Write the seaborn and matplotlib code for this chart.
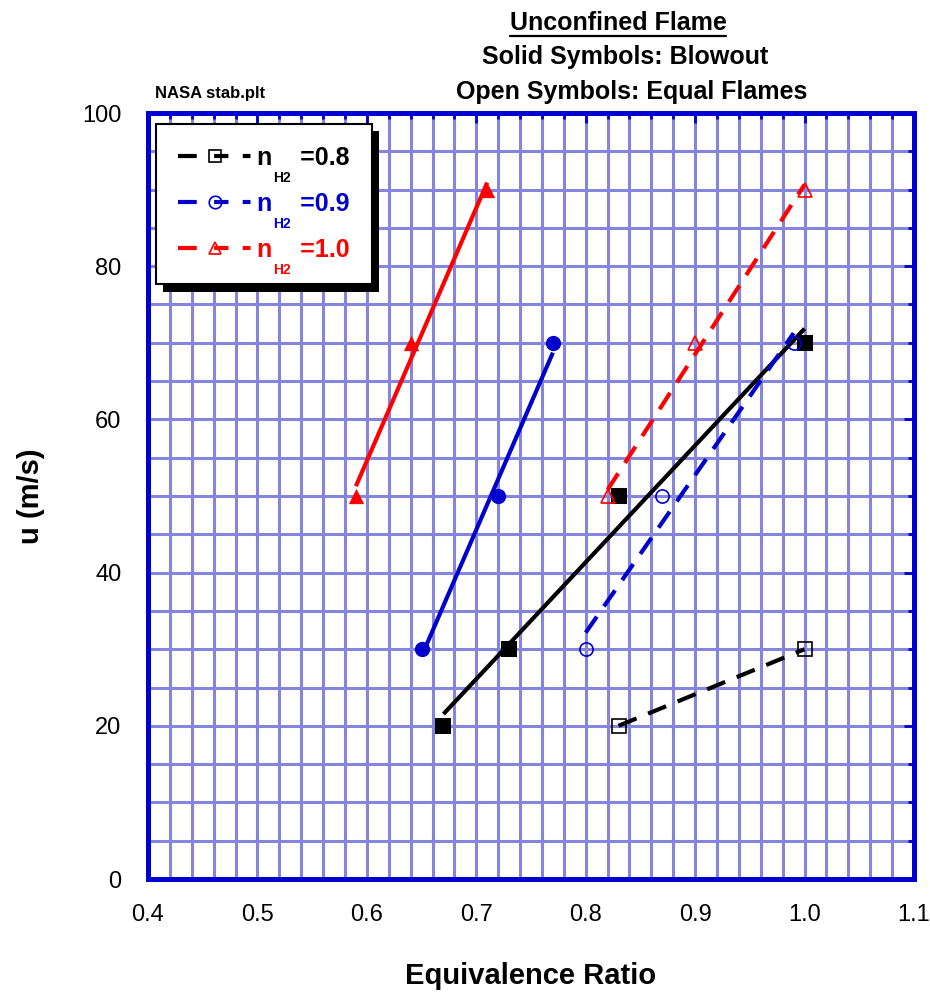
import numpy as np
import pandas as pd
import matplotlib
matplotlib.use("Agg")
import matplotlib.pyplot as plt
import seaborn as sns
from matplotlib.ticker import MultipleLocator, FormatStrFormatter
from matplotlib.lines import Line2D
from matplotlib.patches import Rectangle

# ---- data (equivalence ratio, velocity u in m/s) ----
blow_08_x = [0.67, 0.73, 0.83, 1.00]
blow_08_y = [20, 30, 50, 70]
blow_09_x = [0.65, 0.72, 0.77]
blow_09_y = [30, 50, 70]
blow_10_x = [0.59, 0.64, 0.71]
blow_10_y = [50, 70, 90]
eq_08_x = [0.83, 1.00]
eq_08_y = [20, 30]
eq_09_x = [0.80, 0.87, 0.99]
eq_09_y = [30, 50, 70]
eq_10_x = [0.82, 0.90, 1.00]
eq_10_y = [50, 70, 90]
series_values = ["0.8", "0.9", "1.0"]
x_ticks = [0.4, 0.5, 0.6, 0.7, 0.8, 0.9, 1.0, 1.1]
y_ticks = [0, 20, 40, 60, 80, 100]

colors = ["black", "#0000cc", "#ff0000"]
markers = ["s", "o", "^"]
blow = [(blow_08_x, blow_08_y), (blow_09_x, blow_09_y), (blow_10_x, blow_10_y)]
equal = [(eq_08_x, eq_08_y), (eq_09_x, eq_09_y), (eq_10_x, eq_10_y)]

sns.set_style("white")
plt.rcParams["font.family"] = ["Liberation Sans", "DejaVu Sans"]
plt.rcParams["lines.scale_dashes"] = False
for k in ["text.color", "axes.labelcolor", "xtick.labelcolor", "ytick.labelcolor"]:
    plt.rcParams[k] = "black"

W, H = 930, 996
fig = plt.figure(figsize=(W / 100, H / 100), dpi=100)
ax = fig.add_axes([148 / W, (H - 879) / H, 766 / W, 766 / H])

spine_c = "#0000d0"
grid_c = "#8585de"

for (bx, by), (ex, ey), c, m in zip(blow, equal, colors, markers):
    dfb = pd.DataFrame({"phi": bx, "u": by})
    dfe = pd.DataFrame({"phi": ex, "u": ey})
    sns.regplot(data=dfb, x="phi", y="u", ax=ax, scatter=False, ci=None,
                color=c, truncate=True,
                line_kws=dict(lw=3, zorder=3, solid_capstyle="butt"))
    sns.regplot(data=dfe, x="phi", y="u", ax=ax, scatter=False, ci=None,
                color=c, truncate=True,
                line_kws=dict(lw=3, zorder=3, ls=(0, (14, 9)),
                              dash_capstyle="butt"))
    ms = 11.5 if m == "s" else 11
    sns.scatterplot(data=dfb, x="phi", y="u", ax=ax, marker=m, s=ms ** 2,
                    color=c, edgecolor=c, linewidth=0, zorder=4, legend=False)
    ax.plot(ex, ey, ls="none", marker=m, ms=9.5, mfc="none", mec=c,
            mew=1.2, zorder=4)

ax.set_xlim(0.4, 1.1)
ax.set_ylim(0, 100)
ax.set_xticks(x_ticks)
ax.set_yticks(y_ticks)
ax.xaxis.set_major_formatter(FormatStrFormatter("%.1f"))
ax.yaxis.set_major_formatter(FormatStrFormatter("%d"))
ax.xaxis.set_minor_locator(MultipleLocator(0.02))
ax.yaxis.set_minor_locator(MultipleLocator(5))
ax.set_axisbelow(True)
ax.grid(which="both", color=grid_c, lw=2.2)

for sp in ax.spines.values():
    sp.set_color(spine_c)
    sp.set_linewidth(3.6)
    sp.set_visible(True)

ax.tick_params(which="both", direction="in", top=True, right=True,
               color=spine_c, width=2)
ax.tick_params(which="major", length=7)
ax.tick_params(which="minor", length=4.5)
ax.tick_params(axis="x", which="major", pad=18, labelsize=17)
ax.tick_params(axis="y", which="major", pad=19, labelsize=17)

ax.set_xlabel("Equivalence Ratio", fontsize=21, fontweight="bold", labelpad=26)
ax.set_ylabel("u (m/s)", fontsize=21, fontweight="bold", labelpad=27)

# legend
handles = [Line2D([], [], color=c, lw=3,
                  ls=(0, (13.5, 12.5, 10.3, 10.3, 5.6, 200)),
                  dash_capstyle="butt",
                  marker=m, mfc="none", mec=c, ms=9, mew=1.2)
           for c, m in zip(colors, markers)]
labels = ["n    =" + v for v in series_values]
leg = ax.legend(handles, labels, loc="upper left",
                bbox_to_anchor=(8 / 766, (879 - 124) / 766),
                borderaxespad=0, prop={"weight": "bold", "size": 18},
                labelcolor="linecolor", handlelength=2.9,
                handletextpad=0.25, frameon=True,
                fancybox=False, framealpha=1, edgecolor="black",
                borderpad=0.89, labelspacing=0.88)
leg.get_frame().set_linewidth(1.5)
leg.set_zorder(10)

# titles
fig.text(618 / W, 1 - 23 / H, "Unconfined Flame", ha="center", va="center",
         fontsize=18, fontweight="bold")
fig.text(625 / W, 1 - 57 / H, "Solid Symbols: Blowout", ha="center",
         va="center", fontsize=18, fontweight="bold")
fig.text(632 / W, 1 - 92 / H, "Open Symbols: Equal Flames", ha="center",
         va="center", fontsize=18, fontweight="bold")
fig.text(155 / W, 1 - 93 / H, "NASA stab.plt", ha="left", va="center",
         fontsize=12, fontweight="bold")

fig.canvas.draw()
r = fig.canvas.get_renderer()
# legend shadow
bb = leg.get_frame().get_window_extent(r)
inv = ax.transAxes.inverted()
(x0, y0), (x1, y1) = inv.transform([[bb.x0 + 7, bb.y0 - 7], [bb.x1 + 7, bb.y1 - 7]])
ax.add_patch(Rectangle((x0, y0), x1 - x0, y1 - y0, transform=ax.transAxes,
                       facecolor="black", edgecolor="none", zorder=9,
                       clip_on=False))
# subscripts "H2" under the n of each legend label
probe = fig.text(0, 0, "n", fontsize=18, fontweight="bold")
nw = probe.get_window_extent(r).width
probe.remove()
for t, c in zip(leg.get_texts(), colors):
    tb = t.get_window_extent(r)
    fig.text((tb.x0 + nw + 1) / W, (tb.y0 - 1) / H, "H2", ha="left", va="top",
             fontsize=10, fontweight="bold", color=c, zorder=11)
# underline of first title line
tb = fig.texts[0].get_window_extent(r)
fig.add_artist(Line2D([tb.x0 / W, tb.x1 / W], [(tb.y0 - 1) / H, (tb.y0 - 1) / H],
                      transform=fig.transFigure, color="black", lw=1.6))

fig.savefig("out.png", dpi=100)
